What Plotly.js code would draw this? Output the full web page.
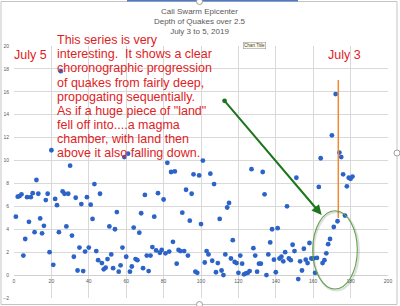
<!DOCTYPE html>
<html>
<head>
<meta charset="utf-8">
<script src="https://cdn.plot.ly/plotly-3.0.1.min.js"></script>
<style>html,body{margin:0;padding:0;background:#fff;}#chart{width:400px;height:306px;}</style>
</head>
<body>
<div id="chart"></div>
<script>
// Sample number (x) and depth (y) of each quake
const sampleIndex = [
  1,2,3,4,5,6,7,8,9,10,11,12,13,14,15,16,17,18,19,20,
  21,22,23,24,25,26,27,28,29,30,31,32,33,34,35,36,37,38,39,40,
  41,42,43,44,45,46,47,48,49,50,51,52,53,54,55,56,57,58,59,60,
  61,62,63,64,65,66,67,68,69,70,71,72,73,74,75,76,77,78,79,80,
  81,82,83,84,85,86,87,88,89,90,91,92,93,94,95,96,97,98,99,100,
  101,102,103,104,105,106,107,108,109,110,111,112,113,114,115,116,117,118,119,120,
  121,122,123,124,125,126,127,128,129,130,131,132,133,134,135,136,137,138,139,140,
  141,142,143,144,145,146,147,148,149,150,151,152,153,154,155,156,157,158,159,160,
  161,162,163,164,165,166,167,168,169,170,171,172,173,174,175,176,177,178,179,180,
  181
];
const depth = [
  5.1,6.85,6.9,7.05,1.7,3.15,6.8,4.65,6.8,7.15,3.75,8.3,7.1,4.95,3.65,4.3,6.55,7.1,2.0,10.9,
  0.9,6.65,6.1,3.75,17.8,7.3,7.1,4.25,7.1,9.55,3.45,1.6,6.75,0.4,2.4,6.2,0.35,2.05,6.8,2.4,
  6.15,4.9,7.95,2.1,1.3,7.1,1.05,0.5,0.65,1.4,4.25,1.8,0.6,4.0,5.5,0.3,0.85,2.4,10.3,1.6,
  10.6,0.3,0.75,4.15,1.4,1.3,3.7,5.4,0.6,7.0,1.7,0.35,1.7,2.45,5.1,2.15,7.15,1.95,2.2,6.6,
  1.9,9.8,2.05,9.0,2.9,9.05,1.0,2.2,2.1,5.45,2.1,7.45,1.7,4.75,7.1,8.8,0.3,0.2,8.7,4.45,
  10.0,1.1,2.1,1.8,8.85,1.25,7.95,0.25,1.05,4.9,0.4,0.0,1.8,5.9,6.3,1.45,3.05,1.15,1.05,0.2,
  1.7,1.0,0.07,0.15,0.2,0.35,9.25,2.35,1.7,0.3,1.0,1.0,9.0,7.05,0.0,1.8,2.85,4.0,1.35,0.25,
  4.1,1.45,1.6,1.2,2.0,6.0,1.45,1.3,2.65,2.1,8.5,-0.35,1.2,0.4,2.3,1.35,1.05,2.8,1.45,1.45,
  0.2,1.5,7.7,10.2,1.05,1.3,1.9,2.7,3.15,12.2,4.2,15.8,4.7,10.7,10.3,8.8,5.2,7.75,8.5,8.4,
  8.6
];
const titleLines = ["Cali Swarm Epicenter", "Depth of Quakes over 2.5", "July 3 to 5, 2019"];
const noteLines = [
  "This series is very",
  "interesting.\u00a0 It shows a clear",
  "choronographic progression",
  "of quakes from fairly deep,",
  "propogating sequentially.",
  "As if a huge piece of \"land\"",
  "fell off into....a magma",
  "chamber, with land then",
  "above it also falling down."
];
const leftLabel = "July 5";
const rightLabel = "July 3";

// pixel -> paper helpers (plot area: left 14, width 374, top 46, height 252)
const PL = 14, PW = 374, PT = 46, PH = 252;
const px = v => (v - PL) / PW;
const py = v => (PT + PH - v) / PH;

const red = "#e0221e";
const redFont = {family: "Liberation Sans, Arial, sans-serif", size: 12.5, color: red};

const annotations = [];
noteLines.forEach((t, i) => {
  annotations.push({
    xref: "paper", yref: "paper", x: px(55), y: py(44 + 14.1 * i - 3.8),
    xanchor: "left", yanchor: "middle", showarrow: false, text: t, font: redFont
  });
});
annotations.push({xref: "paper", yref: "paper", x: px(12), y: py(54.7), xanchor: "left", yanchor: "middle",
  showarrow: false, text: leftLabel, font: redFont});
annotations.push({xref: "paper", yref: "paper", x: px(326.3), y: py(54.7), xanchor: "left", yanchor: "middle",
  showarrow: false, text: rightLabel, font: redFont});
annotations.push({xref: "paper", yref: "paper", x: px(254.5), y: py(45.3), xanchor: "center", yanchor: "middle",
  showarrow: false, text: "Chart Title", font: {family: "Liberation Sans, Arial, sans-serif", size: 4.5, color: "#444"},
  bgcolor: "#fbfbe6", bordercolor: "#8a8a8a", borderwidth: 0.5, borderpad: 0.5});
// green arrow
annotations.push({xref: "paper", yref: "paper", x: px(321.7), y: py(215), ax: 223.3 - 321.7, ay: 99.3 - 215,
  axref: "pixel", ayref: "pixel", text: "", showarrow: true, arrowhead: 2, arrowsize: 1, arrowwidth: 2,
  arrowcolor: "#1d761d", arrowside: "end+start", startarrowhead: 6, startarrowsize: 0.6});

const shapes = [
  // chart border (selected chart frame)
  {type: "rect", xref: "paper", yref: "paper", x0: px(1), x1: px(397), y0: py(304.5), y1: py(1.5),
   line: {color: "#c4c4c4", width: 1}, fillcolor: "rgba(0,0,0,0)", layer: "below"},
  {type: "rect", xref: "paper", yref: "paper", x0: px(127), x1: px(298), y0: py(1.5), y1: py(0),
   line: {width: 0}, fillcolor: "#5079c4"},
  {type: "circle", xref: "paper", yref: "paper", x0: px(196.5), x1: px(202.5), y0: py(4.5), y1: py(-1.5),
   line: {color: "#888", width: 0.8}, fillcolor: "#fff"},
  {type: "circle", xref: "paper", yref: "paper", x0: px(196.5), x1: px(202.5), y0: py(307.5), y1: py(301.5),
   line: {color: "#888", width: 0.8}, fillcolor: "#fff"},
  {type: "circle", xref: "paper", yref: "paper", x0: px(394), x1: px(400), y0: py(156), y1: py(150),
   line: {color: "#888", width: 0.8}, fillcolor: "#fff"},
  // orange marker line
  {type: "line", xref: "paper", yref: "paper", x0: px(338.3), x1: px(338.3), y0: py(80), y1: py(218),
   line: {color: "#f08a32", width: 1.5}},
  // ellipse shadow + ellipse
  {type: "circle", xref: "paper", yref: "paper", x0: px(313.7), x1: px(358.8), y0: py(290.5), y1: py(212),
   line: {color: "rgba(0,0,0,0.13)", width: 2.2}},
  {type: "circle", xref: "paper", yref: "paper", x0: px(312.7), x1: px(357.3), y0: py(289), y1: py(210.7),
   line: {color: "#62a24a", width: 1.1}}
];

const trace = {
  x: sampleIndex, y: depth, type: "scatter", mode: "markers",
  marker: {color: "#2c63c8", size: 4.8, line: {width: 0}},
  cliponaxis: false, hoverinfo: "skip"
};

const axisFont = {family: "Liberation Sans, Arial, sans-serif", size: 5, color: "#595959"};
const layout = {
  width: 400, height: 306,
  margin: {l: 14, r: 12, t: 46, b: 8, pad: 0},
  paper_bgcolor: "#fff", plot_bgcolor: "#fff",
  showlegend: false,
  title: {
    text: titleLines.join("<br>"),
    font: {family: "Liberation Sans, Arial, sans-serif", size: 8, color: "#595959"},
    xref: "container", yref: "container", x: 199.5 / 400, y: 1 - 13.5 / 306,
    xanchor: "center", yanchor: "top"
  },
  xaxis: {
    range: [0, 200], tick0: 0, dtick: 20, showgrid: true, gridcolor: "#d9d9d9", gridwidth: 1,
    zeroline: false, showline: false, ticks: "", tickfont: axisFont,
    anchor: "free", position: 2 / 22, ticklabelstandoff: 2, fixedrange: true
  },
  yaxis: {
    range: [-2, 20], tick0: -2, dtick: 2, showgrid: true, gridcolor: "#d9d9d9", gridwidth: 1,
    zeroline: true, zerolinecolor: "#d0d0d0", zerolinewidth: 1, showline: false, ticks: "",
    tickfont: axisFont, ticklabelstandoff: 4, fixedrange: true
  },
  annotations: annotations,
  shapes: shapes
};

Plotly.newPlot("chart", [trace], layout, {staticPlot: true, displayModeBar: false});
</script>
</body>
</html>
